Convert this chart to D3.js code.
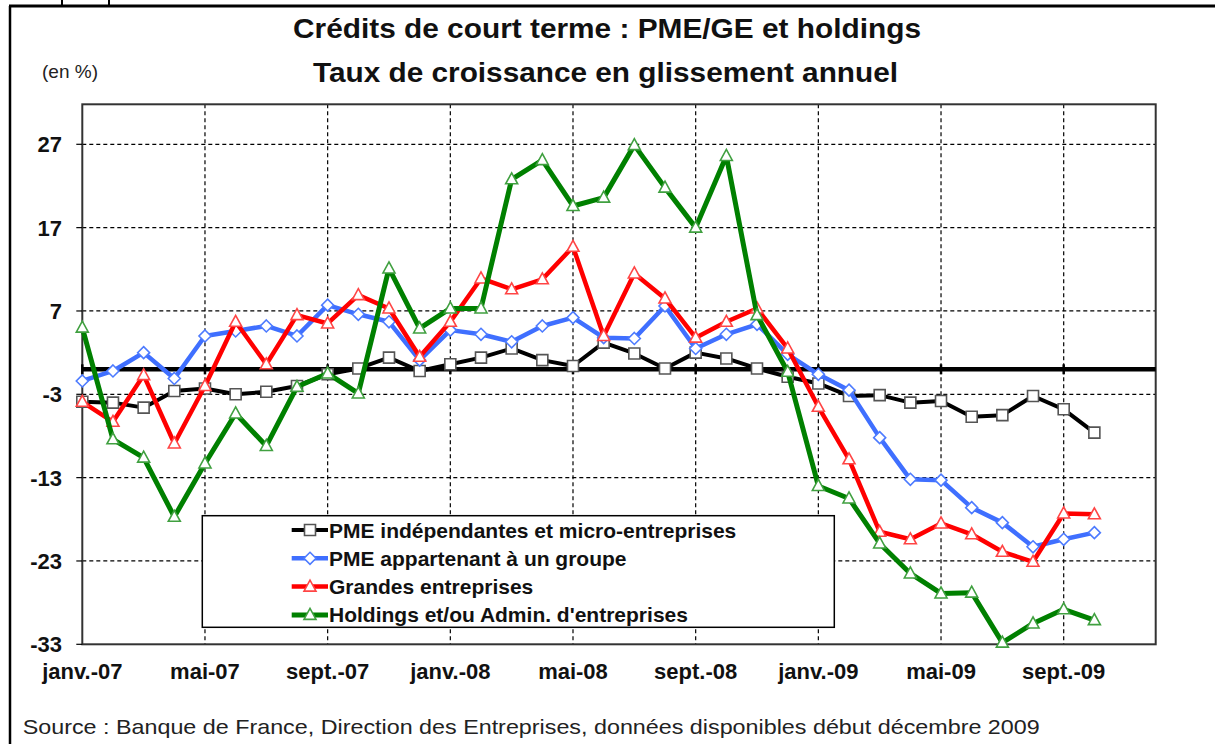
<!DOCTYPE html>
<html>
<head>
<meta charset="utf-8">
<script src="https://cdn.jsdelivr.net/npm/d3@7"></script>
<style>
  body { margin: 0; background: #fff; }
  svg { display: block; }
  text { font-family: Arial, "Liberation Sans", sans-serif; }
</style>
</head>
<body>
<script>
// month index 0 = janv.-07, the axis runs to déc.-09 (index 35)
const tickIndex = [0, 4, 8, 12, 16, 20, 24, 28, 32]
const tickLabels = ["janv.-07", "mai-07", "sept.-07", "janv.-08", "mai-08", "sept.-08", "janv.-09", "mai-09", "sept.-09"]
const yTicks = [-33, -23, -13, -3, 7, 17, 27]

const pmeIndep = [-3.9, -4.0, -4.6, -2.6, -2.3, -3.0, -2.7, -2.0, -0.6, 0.1, 1.4, -0.2, 0.6, 1.4, 2.5, 1.1, 0.4, 3.2, 1.9, 0.1, 2.0, 1.3, 0.1, -0.9, -1.7, -3.2, -3.1, -4.0, -3.8, -5.7, -5.5, -3.2, -4.8, -7.6]
const pmeGroupe = [-1.4, -0.2, 2.0, -1.1, 4.0, 4.6, 5.2, 4.0, 7.7, 6.6, 5.7, 1.1, 4.7, 4.2, 3.3, 5.2, 6.2, 3.8, 3.7, 7.6, 2.5, 4.2, 5.4, 1.8, -0.6, -2.5, -8.2, -13.2, -13.3, -16.6, -18.4, -21.3, -20.4, -19.6]
const grandes = [-3.9, -6.3, -0.7, -8.9, -2.0, 5.7, 0.6, 6.5, 5.5, 8.9, 7.3, 1.5, 5.7, 10.9, 9.6, 10.8, 14.7, 4.0, 11.5, 8.5, 3.8, 5.7, 7.3, 2.5, -4.5, -10.8, -19.5, -20.4, -18.5, -19.8, -21.9, -23.1, -17.3, -17.4]
const holdings = [5.0, -8.4, -10.6, -17.7, -11.3, -5.3, -9.2, -2.1, -0.5, -2.9, 12.1, 4.9, 7.3, 7.3, 22.8, 25.1, 19.6, 20.6, 26.9, 21.8, 17.0, 25.6, 6.5, -0.3, -14.0, -15.5, -20.9, -24.5, -26.9, -26.8, -32.8, -30.5, -28.8, -30.1]

const seriesNames = ["PME indépendantes et micro-entreprises", "PME appartenant à un groupe", "Grandes entreprises", "Holdings et/ou Admin. d'entreprises"]

const series = [
    { name: seriesNames[0], values: pmeIndep, color: "#000", width: 4, marker: "square", mstroke: "#555" },
    { name: seriesNames[1], values: pmeGroupe, color: "#3f6fff", width: 4.5, marker: "diamond", mstroke: "#4d7bff" },
    { name: seriesNames[2], values: grandes, color: "#ff0000", width: 4.5, marker: "triangle", mstroke: "#ff4545" },
    { name: seriesNames[3], values: holdings, color: "#008000", width: 5, marker: "triangle", mstroke: "#40a040" }
]

const width = 1215
const height = 744
const plot = { left: 82.3, right: 1155.7, top: 104.3, bottom: 644.3 }

const svg = d3.select("body").append("svg")
    .attr("width", width)
    .attr("height", height)

const x = d3.scaleLinear().domain([0, 35]).range([plot.left, plot.right])
const y = d3.scaleLinear().domain([-33, 31.8]).range([plot.bottom, plot.top])

// outer frame (top + left)
svg.append("line").attr("x1", 9).attr("x2", width).attr("y1", 6).attr("y2", 6)
    .attr("stroke", "#000").attr("stroke-width", 3)
svg.append("line").attr("x1", 10).attr("x2", 10).attr("y1", 6).attr("y2", height)
    .attr("stroke", "#000").attr("stroke-width", 2.5)
svg.selectAll(".stub").data([62, 109]).join("line")
    .attr("x1", d => d).attr("x2", d => d).attr("y1", 0).attr("y2", 5)
    .attr("stroke", "#000").attr("stroke-width", 2)

// titles
svg.append("text").attr("x", 607).attr("y", 38).attr("text-anchor", "middle")
    .attr("font-size", 27).attr("font-weight", "bold").attr("fill", "#111")
    .attr("textLength", 628).attr("lengthAdjust", "spacingAndGlyphs")
    .text("Crédits de court terme : PME/GE et holdings")
svg.append("text").attr("x", 605.5).attr("y", 82).attr("text-anchor", "middle")
    .attr("font-size", 27).attr("font-weight", "bold").attr("fill", "#111")
    .attr("textLength", 585).attr("lengthAdjust", "spacingAndGlyphs")
    .text("Taux de croissance en glissement annuel")
svg.append("text").attr("x", 42).attr("y", 78)
    .attr("font-size", 19).attr("fill", "#222")
    .text("(en %)")

// grid
const grid = svg.append("g").attr("stroke", "#000").attr("stroke-width", 1.2).attr("stroke-dasharray", "4,3")
grid.selectAll(".hg").data(yTicks.filter(d => d > -33)).join("line")
    .attr("x1", plot.left).attr("x2", plot.right)
    .attr("y1", d => y(d)).attr("y2", d => y(d))
grid.selectAll(".vg").data(tickIndex.filter(d => d > 0)).join("line")
    .attr("x1", d => x(d)).attr("x2", d => x(d))
    .attr("y1", plot.top).attr("y2", plot.bottom)

// plot frame
svg.append("rect")
    .attr("x", plot.left).attr("y", plot.top)
    .attr("width", plot.right - plot.left).attr("height", plot.bottom - plot.top)
    .attr("fill", "none").attr("stroke", "#333").attr("stroke-width", 2)

// y axis labels + ticks
svg.selectAll(".yt").data(yTicks).join("line")
    .attr("x1", plot.left - 6).attr("x2", plot.left)
    .attr("y1", d => y(d)).attr("y2", d => y(d))
    .attr("stroke", "#000").attr("stroke-width", 1.2)
svg.selectAll(".yl").data(yTicks).join("text")
    .attr("x", 62).attr("y", d => y(d)).attr("dy", "0.36em")
    .attr("text-anchor", "end").attr("font-size", 22).attr("font-weight", "bold")
    .attr("fill", "#111")
    .text(d => d)

// x labels
svg.selectAll(".xl").data(tickIndex).join("text")
    .attr("x", d => x(d)).attr("y", 679)
    .attr("text-anchor", "middle").attr("font-size", 22).attr("font-weight", "bold")
    .attr("fill", "#111")
    .text((d, i) => tickLabels[i])

// category axis crossing at 0
svg.append("line")
    .attr("x1", plot.left).attr("x2", plot.right)
    .attr("y1", y(0)).attr("y2", y(0))
    .attr("stroke", "#000").attr("stroke-width", 4.5)
svg.selectAll(".xt").data(tickIndex).join("line")
    .attr("x1", d => x(d)).attr("x2", d => x(d))
    .attr("y1", y(0) - 5).attr("y2", y(0) + 5)
    .attr("stroke", "#000").attr("stroke-width", 2.5)

function markerPath(type) {
    if (type === "square") return "M-5.5,-5.5H5.5V5.5H-5.5Z"
    if (type === "diamond") return "M0,-6L6,0L0,6L-6,0Z"
    return "M0,-6.5L6,4.5L-6,4.5Z"
}

const line = d3.line().x((d, i) => x(i)).y(d => y(d))

series.forEach(s => {
    const g = svg.append("g")
    g.append("path")
        .attr("d", line(s.values))
        .attr("fill", "none")
        .attr("stroke", s.color)
        .attr("stroke-width", s.width)
        .attr("stroke-linejoin", "round")
    g.selectAll("path.m").data(s.values).join("path")
        .attr("class", "m")
        .attr("transform", (d, i) => `translate(${x(i)},${y(d)})`)
        .attr("d", markerPath(s.marker))
        .attr("fill", "#fff")
        .attr("stroke", s.mstroke)
        .attr("stroke-width", 1.6)
})

// legend
const legend = svg.append("g")
legend.append("rect")
    .attr("x", 202.3).attr("y", 515.7).attr("width", 632).attr("height", 111.6)
    .attr("fill", "#fff").attr("stroke", "#000").attr("stroke-width", 1.5)
series.forEach((s, i) => {
    const ly = 530 + i * 28.3
    legend.append("line")
        .attr("x1", 291.7).attr("x2", 328).attr("y1", ly).attr("y2", ly)
        .attr("stroke", s.color).attr("stroke-width", s.width)
    legend.append("path")
        .attr("transform", `translate(310,${ly})`)
        .attr("d", markerPath(s.marker))
        .attr("fill", "#fff").attr("stroke", s.mstroke).attr("stroke-width", 1.6)
    legend.append("text")
        .attr("x", 329).attr("y", ly).attr("dy", "0.36em")
        .attr("font-size", 21).attr("font-weight", "bold").attr("fill", "#111")
        .text(s.name)
})

// source
svg.append("text").attr("x", 22.7).attr("y", 734)
    .attr("font-size", 21).attr("fill", "#222")
    .attr("textLength", 1017).attr("lengthAdjust", "spacingAndGlyphs")
    .text("Source : Banque de France, Direction des Entreprises, données disponibles début décembre 2009")
</script>
</body>
</html>
